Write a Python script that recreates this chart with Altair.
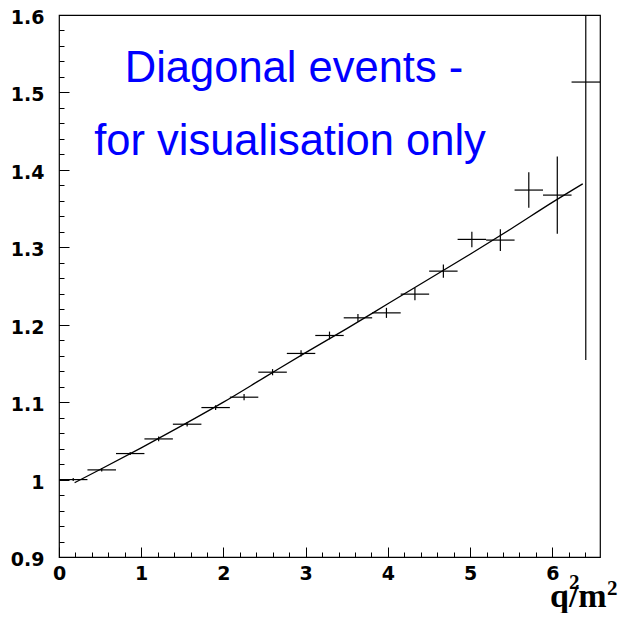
import altair as alt
import pandas as pd

# ---- data ----
bin_lo = [0.000, 0.346, 0.693, 1.039, 1.385, 1.732, 2.078, 2.424, 2.771, 3.117,
          3.463, 3.809, 4.156, 4.502, 4.848, 5.195, 5.541, 5.887, 6.234]
bin_hi = [0.346, 0.693, 1.039, 1.385, 1.732, 2.078, 2.424, 2.771, 3.117, 3.463,
          3.809, 4.156, 4.502, 4.848, 5.195, 5.541, 5.887, 6.234, 6.580]
ratio = [1.000, 1.0125, 1.0336, 1.0525, 1.0715, 1.093, 1.1064, 1.1387, 1.1629, 1.1861,
         1.2089, 1.2153, 1.2395, 1.2692, 1.3102, 1.3093, 1.3739, 1.3674, 1.5134]
ratio_err = [0.002, 0.002, 0.002, 0.003, 0.003, 0.003, 0.004, 0.004, 0.004, 0.005,
             0.005, 0.0065, 0.008, 0.0086, 0.010, 0.014, 0.023, 0.050, 0.359]

fit_x = [0.19, 0.5, 1.0, 1.5, 2.0, 2.5, 3.0, 3.5, 4.0, 4.5, 5.0, 5.5, 6.0, 6.37]
fit_y = [0.996, 1.013, 1.041, 1.070, 1.100, 1.132, 1.164, 1.195, 1.227, 1.259,
         1.291, 1.324, 1.358, 1.382]

x_major = [0, 1, 2, 3, 4, 5, 6]
x_minor = [round(i * 0.2, 1) for i in range(0, 33)]
y_major = [0.9, 1.0, 1.1, 1.2, 1.3, 1.4, 1.5, 1.6]
y_minor = [round(0.9 + i * 0.02, 2) for i in range(0, 36)]

note_lines = ["Diagonal events -", "for visualisation only"]

W, H = 541, 542

df = pd.DataFrame({
    "lo": bin_lo, "hi": bin_hi,
    "center": [(a + b) / 2 for a, b in zip(bin_lo, bin_hi)],
    "val": ratio,
    "ylo": [v - e for v, e in zip(ratio, ratio_err)],
    "yhi": [v + e for v, e in zip(ratio, ratio_err)],
})
fit_df = pd.DataFrame({"fx": fit_x, "fy": fit_y})

xs = alt.Scale(domain=[0, 6.58], nice=False, zero=False, padding=0)
ys = alt.Scale(domain=[0.9, 1.6], nice=False, zero=False, padding=0)

lab = dict(labelFont="DejaVu Sans", labelFontWeight="bold", labelFontSize=19,
           labelColor="black", labelFlush=False, labelOverlap=False,
           title=None, grid=False, domain=False, format="~g")

ax_x_lab = alt.Axis(orient="bottom", values=x_major, ticks=False, tickSize=0,
                    labelPadding=7, **lab)
ax_y_lab = alt.Axis(orient="left", values=y_major, ticks=False, tickSize=0,
                    labelPadding=15, labelOffset=2.5, **lab)
tk = dict(labels=False, title=None, grid=False, domain=False, tickColor="black", tickWidth=1)
ax_x_maj = alt.Axis(orient="top", offset=-H, values=x_major, tickSize=10, **tk)
ax_y_maj = alt.Axis(orient="right", offset=-W, values=y_major, tickSize=10, **tk)
ax_x_min = alt.Axis(orient="top", offset=-H, values=x_minor, tickSize=5, **tk)
ax_y_min = alt.Axis(orient="right", offset=-W, values=y_minor, tickSize=5, **tk)

base = alt.Chart(df)

hbars = base.mark_rule(color="black", strokeWidth=1.2, clip=True).encode(
    x=alt.X("lo:Q", scale=xs, axis=ax_x_lab),
    x2="hi:Q",
    y=alt.Y("val:Q", scale=ys, axis=ax_y_lab),
)
vbars = base.mark_rule(color="black", strokeWidth=1.2, clip=True).encode(
    x=alt.X("center:Q", scale=xs, axis=ax_x_maj),
    y=alt.Y("ylo:Q", scale=ys, axis=ax_y_maj),
    y2="yhi:Q",
)
fit = alt.Chart(fit_df).mark_line(color="black", strokeWidth=1.3, interpolate="monotone").encode(
    x=alt.X("fx:Q", scale=xs, axis=ax_x_min),
    y=alt.Y("fy:Q", scale=ys, axis=ax_y_min),
)

note1 = alt.Chart(pd.DataFrame({"t": [note_lines[0]]})).mark_text(
    font="Liberation Sans", fontSize=43.5, color="#0000ff", align="center", baseline="alphabetic"
).encode(text="t:N", x=alt.value(235), y=alt.value(67))
note2 = alt.Chart(pd.DataFrame({"t": [note_lines[1]]})).mark_text(
    font="Liberation Sans", fontSize=43.5, color="#0000ff", align="center", baseline="alphabetic"
).encode(text="t:N", x=alt.value(231), y=alt.value(140))

ttl = alt.Chart(pd.DataFrame({"t": ["q/m"]})).mark_text(
    font="Liberation Serif", fontWeight="bold", fontSize=34, color="black",
    align="left", baseline="alphabetic"
).encode(text="t:N", x=alt.value(491), y=alt.value(592))
sup1 = alt.Chart(pd.DataFrame({"t": ["2"]})).mark_text(
    font="Liberation Serif", fontWeight="bold", fontSize=21, color="black",
    align="left", baseline="alphabetic"
).encode(text="t:N", x=alt.value(510), y=alt.value(574))
sup2 = alt.Chart(pd.DataFrame({"t": ["2"]})).mark_text(
    font="Liberation Serif", fontWeight="bold", fontSize=21, color="black",
    align="left", baseline="alphabetic"
).encode(text="t:N", x=alt.value(548), y=alt.value(580))

chart = alt.layer(hbars, vbars, fit, note1, note2, ttl, sup1, sup2).resolve_axis(
    x="independent", y="independent"
).properties(
    width=W, height=H,
    autosize=alt.AutoSizeParams(type="none"),
    padding={"left": 51, "top": 7, "right": 19, "bottom": 56},
    background="white",
).configure_view(stroke="black", strokeWidth=1.2)

chart.save("out.html", embed_options={"renderer": "svg", "actions": False})
